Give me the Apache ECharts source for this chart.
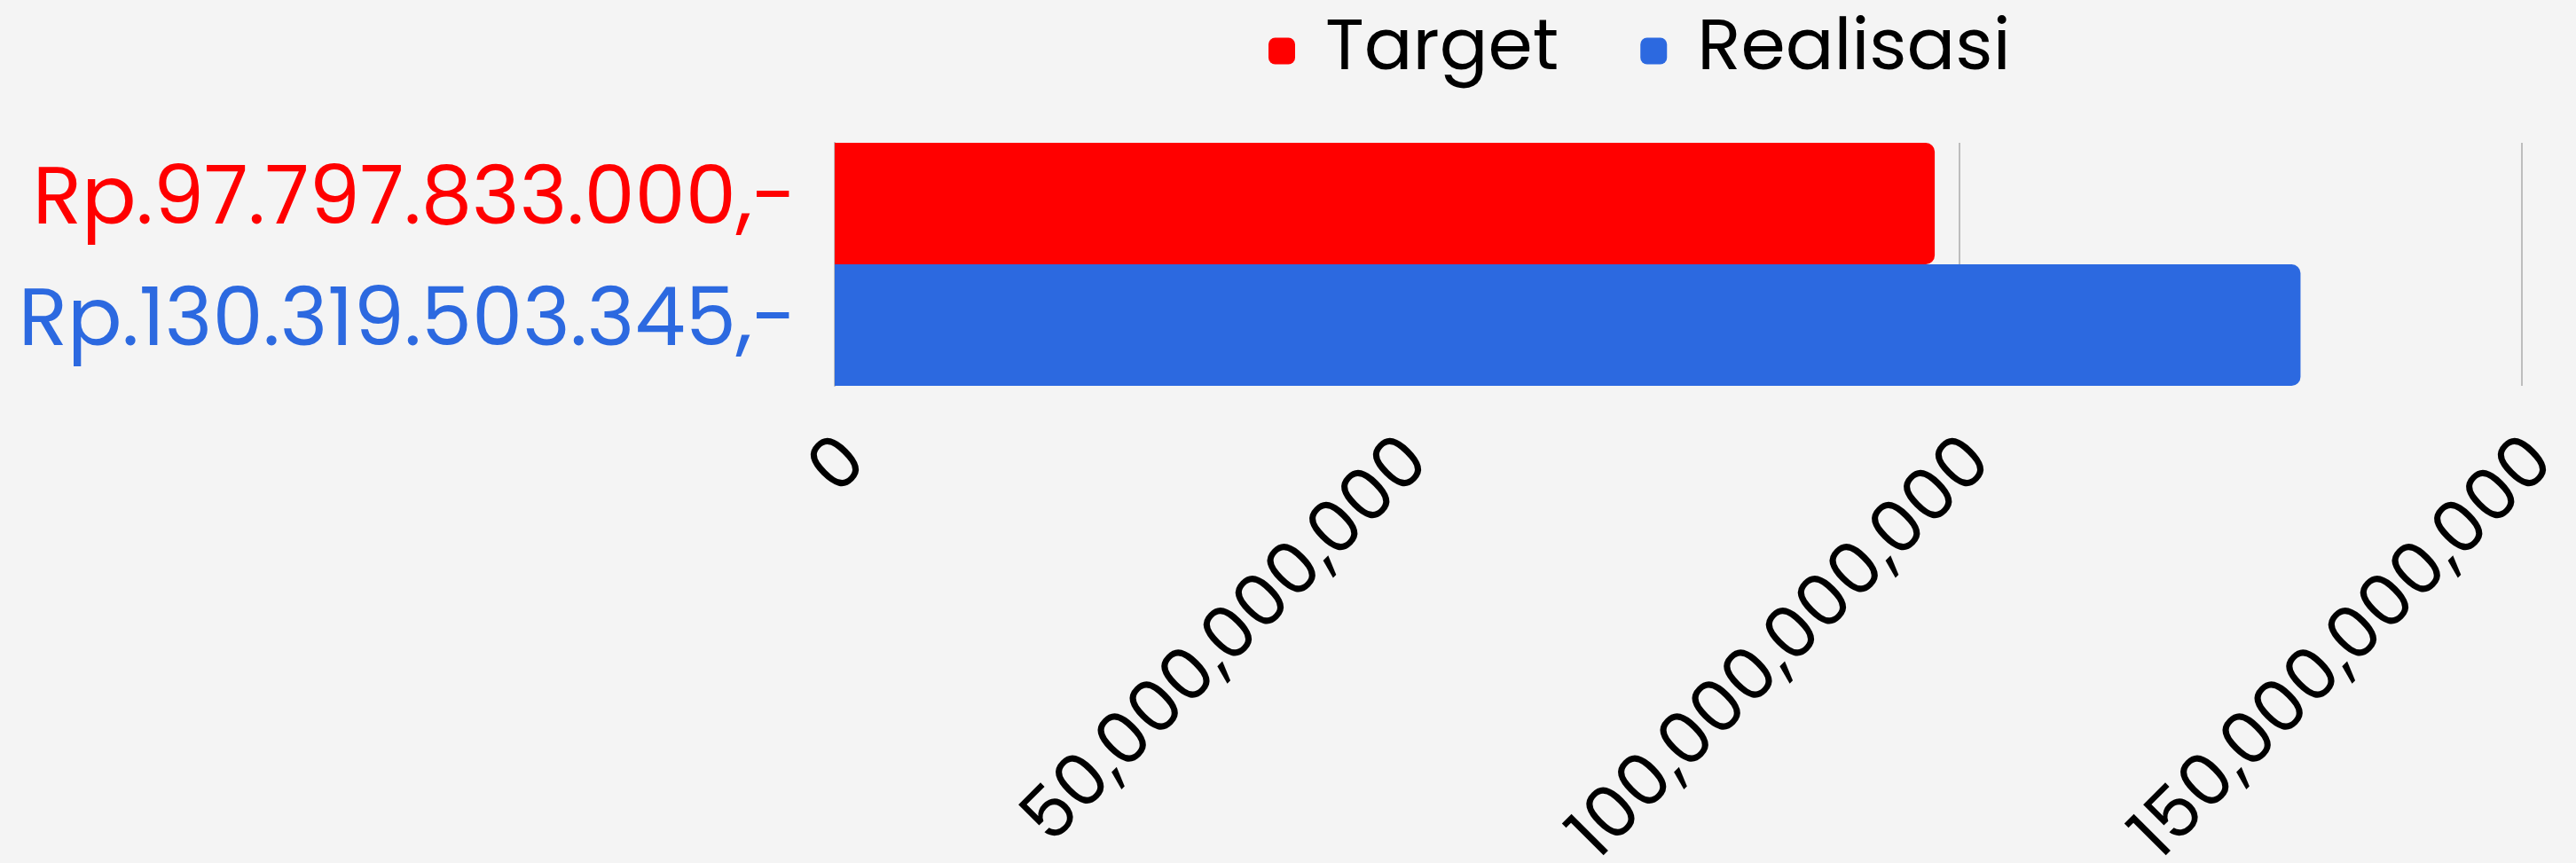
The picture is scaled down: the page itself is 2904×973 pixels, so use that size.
<!DOCTYPE html>
<html>
<head>
<meta charset="utf-8">
<script src="https://cdn.jsdelivr.net/npm/echarts@6/dist/echarts.min.js"></script>
<style>
  html, body { margin: 0; padding: 0; background: #F4F4F4; }
  #chart { width: 2904px; height: 973px; }
</style>
</head>
<body>
<div id="chart"></div>
<script>
const categories = ['Rp.97.797.833.000,-', 'Rp.130.319.503.345,-'];
const seriesNames = ['Target', 'Realisasi'];
const targetValues = [97797833000, null];
const realisasiValues = [null, 130319503345];
const xTicks = { min: 0, max: 150000000000, interval: 50000000000 };

const RED = '#FF0000';
const BLUE = '#2C69E0';
const FONT = 'Poppins, "Open Sans", sans-serif';

const chart = echarts.init(document.getElementById('chart'));
chart.setOption({
  backgroundColor: '#F4F4F4',
  animation: false,
  legend: {
    left: 1425,
    top: 12,
    itemWidth: 30,
    itemHeight: 30,
    itemGap: 92,
    icon: 'roundRect',
    textStyle: { fontFamily: FONT, fontSize: 81, color: '#000', lineHeight: 80, padding: [0, 0, 0, 29] },
    data: seriesNames
  },
  grid: { left: 941, right: 61, top: 161, bottom: 538, containLabel: false, outerBoundsMode: 'none' },
  xAxis: {
    type: 'value',
    min: xTicks.min,
    max: xTicks.max,
    interval: xTicks.interval,
    axisLine: { show: false },
    axisTick: { show: false },
    splitLine: { show: true, lineStyle: { color: '#BDBDBD', width: 2 } },
    axisLabel: {
      rotate: 45,
      margin: 50,
      fontFamily: FONT,
      fontSize: 81,
      color: '#000',
      verticalAlign: 'top',
      lineHeight: 70
    }
  },
  yAxis: {
    type: 'category',
    inverse: true,
    data: [
      { value: categories[0], textStyle: { color: RED, padding: [8, 0, 0, 0] } },
      { value: categories[1], textStyle: { color: BLUE, padding: [0, 0, 12, 0] } }
    ],
    axisLine: { show: true, lineStyle: { color: '#BDBDBD', width: 2 } },
    axisTick: { show: false },
    axisLabel: { fontFamily: FONT, fontSize: 91, margin: 43 }
  },
  series: [
    {
      name: seriesNames[0], type: 'bar', stack: 'all', data: targetValues,
      barCategoryGap: 0, barWidth: '100%',
      itemStyle: { color: RED, borderRadius: [0, 10, 10, 0] }
    },
    {
      name: seriesNames[1], type: 'bar', stack: 'all', data: realisasiValues,
      barCategoryGap: 0, barWidth: '100%',
      itemStyle: { color: BLUE, borderRadius: [0, 10, 10, 0] }
    }
  ]
});
</script>
</body>
</html>
